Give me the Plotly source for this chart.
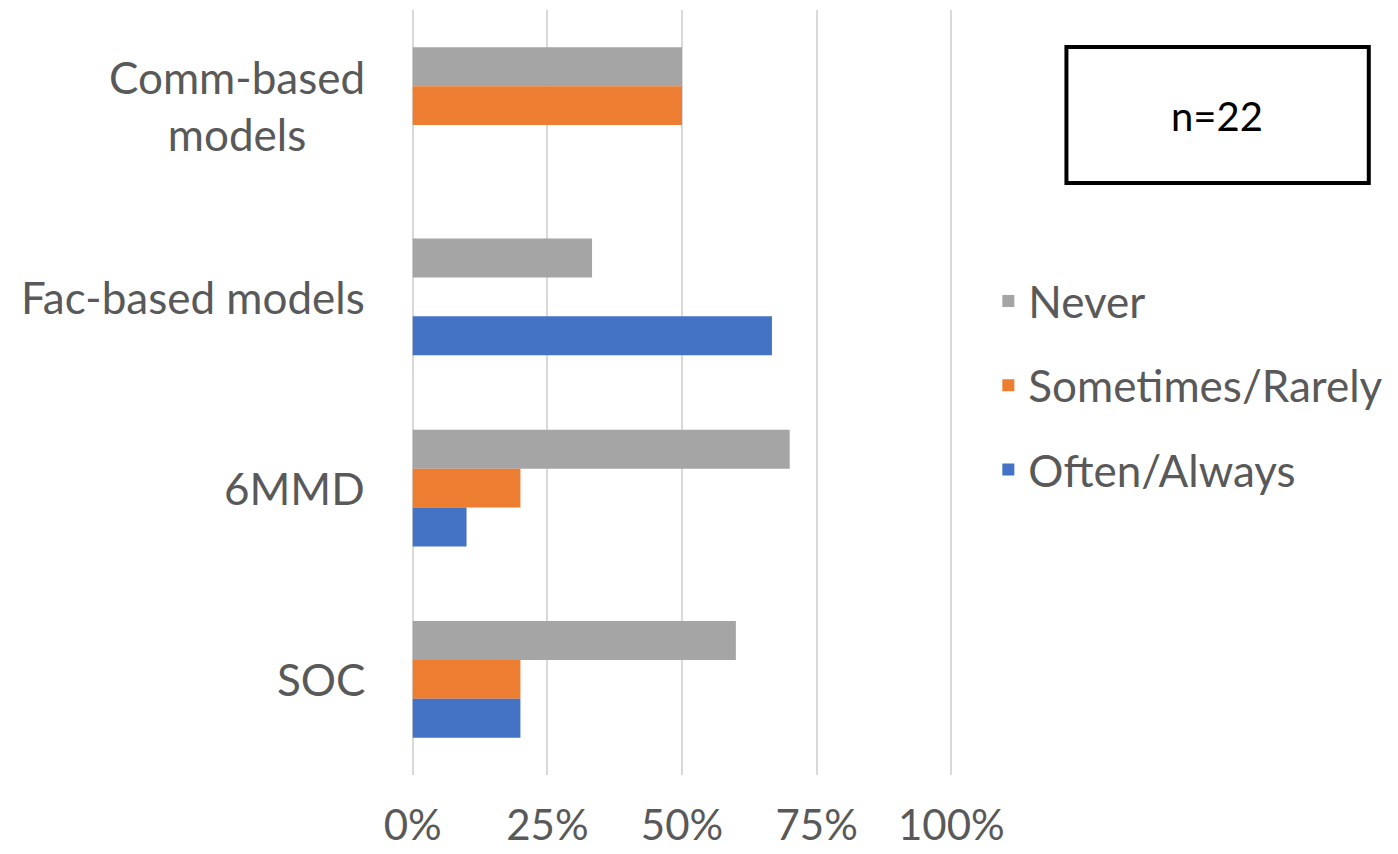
import plotly.graph_objects as go

# Survey responses by model type (share of respondents)
categories = ["Comm-based models", "Fac-based models", "6MMD", "SOC"]
category_labels = ["Comm-based<br>models", "Fac-based models", "6MMD", "SOC"]
never = [0.50, 0.333, 0.70, 0.60]
sometimes_rarely = [0.50, 0.0, 0.20, 0.20]
often_always = [0.0, 0.667, 0.10, 0.20]
x_ticks = [0, 0.25, 0.5, 0.75, 1.0]
x_tick_labels = ["0%", "25%", "50%", "75%", "100%"]
sample_note = "n=22"

FONT = "Lato"
TEXT = "#595959"

W, H = 1398, 854
# pixel positions of 0% and 100% and of the plot's top / bottom
X0, X100, TOP, BOTTOM = 413, 951, 10, 775
PAD = 0.005  # small range padding so the 0% / 100% gridlines are kept
L = X0 - PAD * (X100 - X0)
R = W - (X100 + PAD * (X100 - X0))
T, B = TOP, H - BOTTOM
plot_w = W - L - R
plot_h = H - T - B


def px_x(x):
    return (x - L) / plot_w


def px_y(y):
    return (H - B - y) / plot_h


fig = go.Figure()
series = [
    ("Never", never, "#A5A5A5"),
    ("Sometimes/Rarely", sometimes_rarely, "#ED7D31"),
    ("Often/Always", often_always, "#4472C4"),
]
for name, vals, color in series:
    fig.add_trace(go.Bar(
        name=name, y=categories, x=vals, orientation="h",
        marker=dict(color=color, line=dict(width=0)),
        legendgroup=name,
    ))

for cat, lab in zip(categories, category_labels):
    fig.add_annotation(
        xref="paper", yref="y", x=px_x(367), y=cat, text=lab, showarrow=False,
        xanchor="right", yanchor="middle", align="center",
        font=dict(family=FONT, size=44, color=TEXT),
    )

# sample size box
fig.add_shape(
    type="rect", xref="paper", yref="paper",
    x0=px_x(1066), x1=px_x(1368), y0=px_y(183), y1=px_y(47),
    line=dict(color="black", width=4), fillcolor="white",
)
fig.add_annotation(
    xref="paper", yref="paper", x=px_x(1216), y=px_y(116), text=sample_note,
    showarrow=False, xanchor="center", yanchor="middle",
    font=dict(family=FONT, size=40, color="black"),
)

fig.update_layout(
    width=W, height=H,
    margin=dict(l=L, r=R, t=T, b=B, autoexpand=False),
    paper_bgcolor="white", plot_bgcolor="white",
    barmode="group", bargap=0.39, bargroupgap=0,
    font=dict(family=FONT, size=44, color=TEXT),
    showlegend=True,
    legend=dict(
        x=px_x(988), y=px_y(266), xanchor="left", yanchor="top",
        font=dict(family=FONT, size=44, color=TEXT),
        tracegroupgap=24, traceorder="grouped",
        bgcolor="rgba(0,0,0,0)",
    ),
    xaxis=dict(
        range=[-PAD, 1 + PAD], tickvals=x_ticks, ticktext=x_tick_labels,
        showgrid=True, gridcolor="#D9D9D9", gridwidth=2,
        zeroline=False, showline=False, ticks="", automargin=False,
        ticklabelstandoff=22,
        tickfont=dict(family=FONT, size=42, color=TEXT),
    ),
    yaxis=dict(
        categoryorder="array", categoryarray=categories,
        autorange="reversed", showticklabels=False, showgrid=False,
        zeroline=False, showline=False, ticks="", automargin=False,
    ),
)

fig.write_html("out.html")
